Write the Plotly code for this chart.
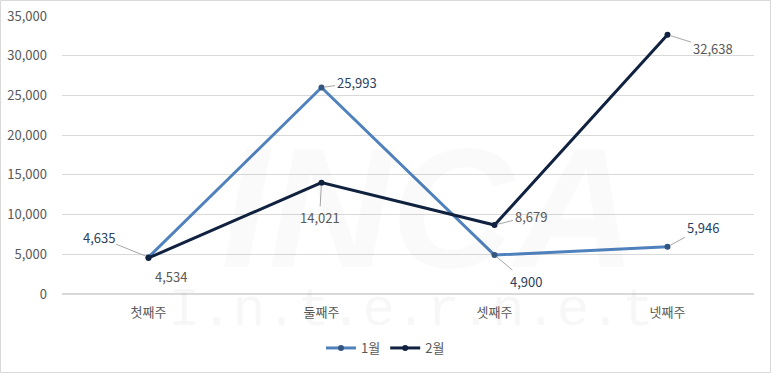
import plotly.graph_objects as go

categories = ["첫째주", "둘째주", "셋째주", "넷째주"]
jan = [4635, 25993, 4900, 5946]
feb = [4534, 14021, 8679, 32638]
y_ticks = [0, 5000, 10000, 15000, 20000, 25000, 30000, 35000]

FONT = "Noto Sans CJK KR, Noto Sans, sans-serif"
JAN_C = "#4F81BD"
FEB_C = "#10223F"
JAN_TXT = "#2B3F5E"
FEB_TXT = "#595959"

fig = go.Figure()
fig.add_trace(go.Scatter(
    x=categories, y=jan, name="1월", mode="lines+markers",
    line=dict(color=JAN_C, width=3),
    marker=dict(size=6, color="#34557F", line=dict(width=0)),
))
fig.add_trace(go.Scatter(
    x=categories, y=feb, name="2월", mode="lines+markers",
    line=dict(color=FEB_C, width=3),
    marker=dict(size=6, color=FEB_C, line=dict(width=0)),
))

# label offsets (pixels): (ax, ay, show leader)
jan_off = [(-50, -20, True), (35, -5, True), (31, 26, True), (35, -19, True)]
feb_off = [(22, 19, False), (-2, 35, True), (36, -9, True), (45, 14, True)]

def add_labels(vals, offs, color):
    for c, v, (ax, ay, lead) in zip(categories, vals, offs):
        fig.add_annotation(
            x=c, y=v, text=f"{v:,}", ax=ax, ay=ay, axref="pixel", ayref="pixel",
            showarrow=True, arrowhead=0, arrowwidth=1,
            arrowcolor="#A6A6A6" if lead else "rgba(0,0,0,0)",
            standoff=3, startstandoff=0,
            font=dict(family=FONT, size=13, color=color),
        )

add_labels(jan, jan_off, JAN_TXT)
add_labels(feb, feb_off, FEB_TXT)

# faint watermark
fig.add_annotation(
    xref="paper", yref="paper", x=0.504, y=-0.176, text="I.n.t.e.r.n.e.t",
    showarrow=False, font=dict(family="Liberation Mono", size=54, color="rgba(0,0,0,0.03)"),
)
fig.add_annotation(
    xref="paper", yref="paper", x=0.53, y=-0.04, yanchor="bottom", text="<i><b>INCA</b></i>",
    showarrow=False, font=dict(family="Liberation Sans", size=170, color="rgba(0,0,0,0.02)"),
)

# outer border
W, H = 692, 278
L, T = 62, 16
fig.add_shape(
    type="rect", xref="paper", yref="paper",
    x0=(0.5 - L) / W, x1=(770.5 - L) / W,
    y0=(T + H - 372.5) / H, y1=(T + H - 0.5) / H,
    line=dict(color="#D9D9D9", width=1), fillcolor="rgba(0,0,0,0)", layer="above",
)

fig.update_layout(
    width=771, height=373,
    margin=dict(l=L, r=771 - L - W, t=T, b=373 - T - H, autoexpand=False),
    paper_bgcolor="white", plot_bgcolor="white",
    font=dict(family=FONT, size=13, color="#595959"),
    showlegend=True,
    legend=dict(orientation="h", xref="container", yref="container",
                x=0.5, xanchor="center", y=1 - 348 / 373, yanchor="middle",
                font=dict(family=FONT, size=13, color="#595959"), itemwidth=30),
    xaxis=dict(showgrid=False, showline=False, ticks="", tickfont=dict(size=13, color="#595959"),
               range=[-0.5, 3.5], automargin=False, ticklabelstandoff=9),
    yaxis=dict(range=[0, 35000], tickvals=y_ticks, tickformat=",", showgrid=True,
               gridcolor="#D9D9D9", gridwidth=1, zeroline=True, zerolinecolor="#D9D9D9",
               showline=False, ticks="", ticklabelstandoff=14, automargin=False,
               tickfont=dict(size=13, color="#595959")),
)

fig.write_html("out.html", config={"displayModeBar": False},
               post_script="document.body.style.margin='0';document.body.style.overflow='hidden';")
